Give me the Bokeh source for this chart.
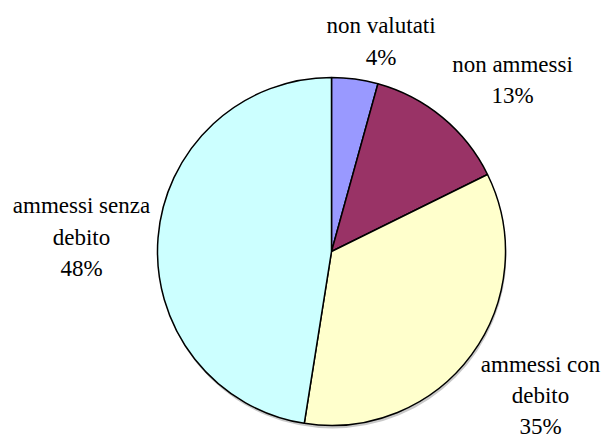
import numpy as np
from bokeh.plotting import figure
from bokeh.models import Range1d, ColumnDataSource
from bokeh.core.properties import value
from bokeh.embed import file_html
from bokeh.resources import INLINE

# ---- data ----
categories = ["non valutati", "non ammessi", "ammessi con debito", "ammessi senza debito"]
label_lines = [["non valutati"], ["non ammessi"], ["ammessi con", "debito"], ["ammessi senza", "debito"]]
shares = [4.3, 13.4, 34.8, 47.5]
pct_labels = ["4%", "13%", "35%", "48%"]
colors = ["#9999FF", "#993366", "#FFFFCC", "#CCFFFF"]

# ---- layout (page pixel coordinates, y measured downward) ----
W, H = 603, 440
cx, cy, R = 331, 251, 174
label_anchor = [(380.5, 25.3), (512, 63.7), (540, 364), (81, 205.3)]
line_step = 31.2
font = value("Liberation Serif")

p = figure(width=W, height=H, output_backend="svg", toolbar_location=None,
           x_range=Range1d(0, W), y_range=Range1d(-H, 0),
           min_border=0, background_fill_color="white", border_fill_color="white")
p.axis.visible = False
p.grid.visible = False
p.outline_line_color = None

frac = np.array(shares) / np.sum(shares)
cum = np.cumsum(frac)
start = cum - frac
end_ang = np.radians(90 - 360 * start)
start_ang = np.radians(90 - 360 * cum)

# shadow
p.circle(x=[cx + 1], y=[-(cy + 3)], radius=R, fill_color="#888888", fill_alpha=0.45, line_color=None)

src = ColumnDataSource(dict(x=[cx] * len(shares), y=[-cy] * len(shares),
                            s=start_ang, e=end_ang, c=colors, name=categories))
p.wedge(x="x", y="y", radius=R, start_angle="s", end_angle="e", fill_color="c",
        line_color="black", line_width=1.5, source=src)

xs, ys, ts = [], [], []
for (ax, ay), lines, pct in zip(label_anchor, label_lines, pct_labels):
    for i, t in enumerate(lines + [pct]):
        xs.append(ax)
        ys.append(-(ay + i * line_step))
        ts.append(t)
p.text(x=xs, y=ys, text=ts, text_align="center", text_baseline="alphabetic",
       text_font=font, text_font_size="23px", text_color="black")

open("out.html", "w").write(file_html(p, INLINE))
